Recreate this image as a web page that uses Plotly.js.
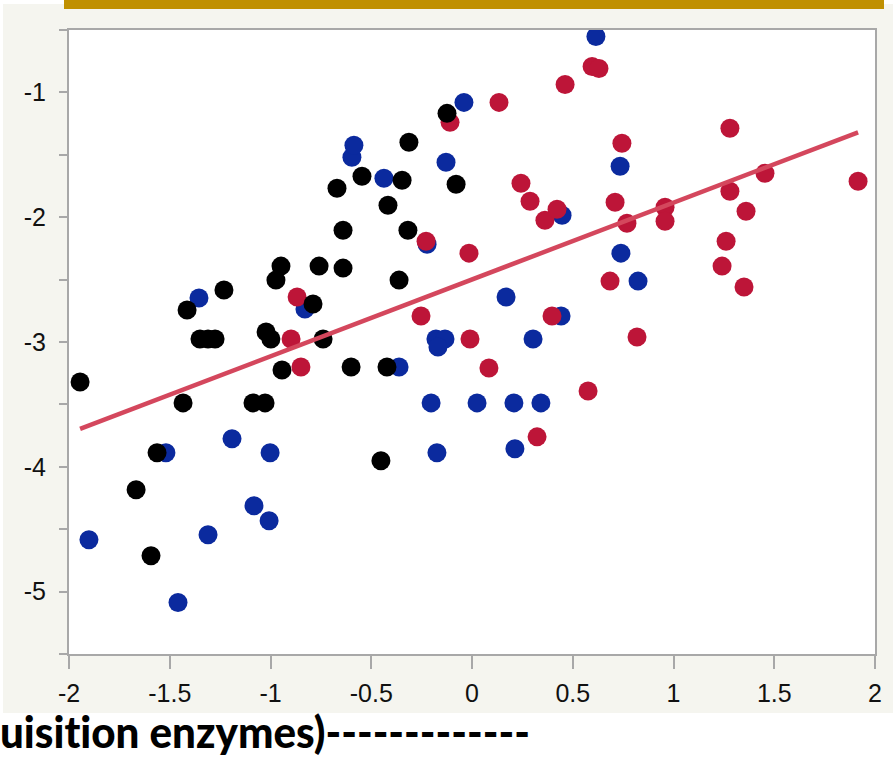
<!DOCTYPE html>
<html>
<head>
<meta charset="utf-8">
<script src="https://cdn.plot.ly/plotly-3.0.1.min.js"></script>
<style>
  html, body { margin:0; padding:0; background:#ffffff; }
  #wrap { position:relative; width:893px; height:760px; overflow:hidden; }
  #beige { position:absolute; left:3px; top:4px; width:890px; height:709px; background:#f5f5ef; }
  #gold { position:absolute; left:64px; top:0px; width:820px; height:9px; background:#c09000; }
  #chart { position:absolute; left:0; top:0; width:893px; height:760px; }
  #caption { position:absolute; left:0px; top:706px; white-space:nowrap; font-family:Lato, "Open Sans", sans-serif; font-weight:900; font-size:43px; line-height:52px; color:#000; transform-origin:0 0; font-variant-ligatures:none; font-feature-settings:"liga" 0; }
</style>
</head>
<body>
<div id="wrap">
  <div id="beige"></div>
  <div id="gold"></div>
  <div id="chart"></div>
  <div id="caption"></div>
</div>
<script>
// ---- data ----
const blackX = [-1.945,-1.414,-1.434,-1.563,-1.667,-1.593,-1.231,-1.350,-1.310,-1.275,-1.087,-1.027,-1.022,-0.998,-0.973,-0.948,-0.943,-0.789,-0.759,-0.739,-0.670,-0.640,-0.640,-0.600,-0.546,-0.452,-0.422,-0.417,-0.347,-0.362,-0.318,-0.313,-0.124,-0.079];
const blackY = [-3.32,-2.744,-3.488,-3.888,-4.184,-4.712,-2.584,-2.976,-2.976,-2.976,-3.488,-3.488,-2.92,-2.976,-2.504,-2.392,-3.224,-2.696,-2.392,-2.976,-1.768,-2.104,-2.408,-3.20,-1.672,-3.952,-3.20,-1.904,-1.704,-2.504,-2.104,-1.40,-1.168,-1.736];

const blueX = [-1.901,-1.519,-1.459,-1.355,-1.310,-1.191,-1.082,-1.007,-1.002,-0.829,-0.596,-0.586,-0.437,-0.362,-0.223,-0.203,-0.179,-0.134,-0.169,-0.174,-0.129,-0.040,0.025,0.169,0.208,0.213,0.303,0.342,0.442,0.447,0.615,0.735,0.739,0.824];
const blueY = [-4.584,-3.888,-5.088,-2.648,-4.544,-3.776,-4.312,-4.432,-3.888,-2.736,-1.52,-1.424,-1.688,-3.20,-2.216,-3.488,-2.976,-2.976,-3.04,-3.888,-1.56,-1.08,-3.488,-2.64,-3.488,-3.856,-2.976,-3.488,-2.792,-1.984,-0.552,-1.592,-2.288,-2.512];

const redX = [-0.898,-0.868,-0.849,-0.253,-0.228,-0.109,-0.010,-0.015,0.084,0.134,0.243,0.288,0.323,0.362,0.397,0.422,0.462,0.576,0.596,0.630,0.685,0.710,0.744,0.769,0.819,0.958,0.958,1.241,1.261,1.280,1.280,1.350,1.360,1.454,1.916];
const redY = [-2.976,-2.64,-3.20,-2.792,-2.192,-1.24,-2.976,-2.288,-3.208,-1.08,-1.728,-1.872,-3.76,-2.024,-2.792,-1.936,-0.936,-3.392,-0.792,-0.808,-2.512,-1.88,-1.408,-2.048,-2.96,-1.92,-2.032,-2.392,-2.192,-1.288,-1.792,-2.56,-1.952,-1.648,-1.712];

const fitX = [-1.945, 1.916];
const fitY = [-3.696, -1.32];

const xTickVals = [-2,-1.5,-1,-0.5,0,0.5,1,1.5,2];
const xTickText = ['-2','-1.5','-1','-0.5','0','0.5','1','1.5','2'];
const yTickVals = [-5.5,-5,-4.5,-4,-3.5,-3,-2.5,-2,-1.5,-1,-0.5];
const yTickText = ['','-5','','-4','','-3','','-2','','-1',''];

const captionText = 'uisition enzymes)-------------';

// ---- chart ----
const mk = (c) => ({ color: c, size: 19, line: { width: 0 } });
const traces = [
  { x: blueX, y: blueY, type: 'scatter', mode: 'markers', marker: mk('#0b2a9e'), hoverinfo: 'skip' },
  { x: redX, y: redY, type: 'scatter', mode: 'markers', marker: mk('#bd1538'), hoverinfo: 'skip' },
  { x: blackX, y: blackY, type: 'scatter', mode: 'markers', marker: mk('#000000'), hoverinfo: 'skip' },
  { x: fitX, y: fitY, type: 'scatter', mode: 'lines', line: { color: '#d4475d', width: 4.5 }, hoverinfo: 'skip' }
];

const axisCommon = {
  showgrid: false, zeroline: false, showline: true, mirror: true,
  linecolor: '#a8a8a8', linewidth: 2,
  ticks: 'outside', tickcolor: '#a8a8a8', tickwidth: 2,
  tickfont: { family: '"Liberation Sans", Arial, sans-serif', size: 25, color: '#111111' },
  tickmode: 'array'
};

const layout = {
  width: 893, height: 760,
  margin: { l: 69, r: 18, t: 30, b: 106, pad: 0 },
  paper_bgcolor: 'rgba(0,0,0,0)',
  plot_bgcolor: '#ffffff',
  showlegend: false,
  xaxis: Object.assign({}, axisCommon, {
    range: [-2, 2], tickvals: xTickVals, ticktext: xTickText, ticklen: 13, ticklabelstandoff: 3
  }),
  yaxis: Object.assign({}, axisCommon, {
    range: [-5.5, -0.5], tickvals: yTickVals, ticktext: yTickText, ticklen: 8, ticklabelstandoff: 8
  })
};

Plotly.newPlot('chart', traces, layout, { staticPlot: true, displayModeBar: false }).then(() => {
  const cap = document.getElementById('caption');
  cap.textContent = captionText;
  const w = cap.getBoundingClientRect().width;
  if (w > 0) cap.style.transform = 'scaleX(' + (530 / w) + ')';
});
</script>
</body>
</html>
